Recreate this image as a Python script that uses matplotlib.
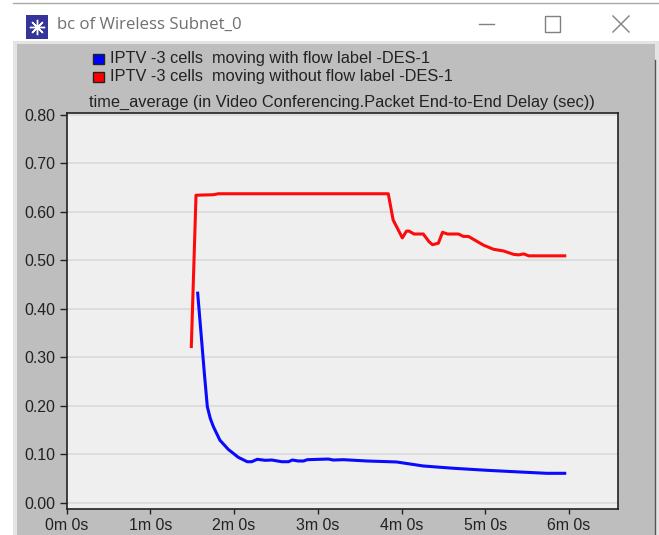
import matplotlib
matplotlib.use("Agg")
import matplotlib.pyplot as plt
from matplotlib.patches import Rectangle

W, H = 659, 535

# values (time in minutes, delay in seconds)
with_t = [1.565, 1.62, 1.644, 1.68, 1.715, 1.752, 1.83, 1.93, 2.05, 2.157, 2.21, 2.277, 2.37, 2.45, 2.57, 2.65,
          2.695, 2.767, 2.83, 2.875, 3.126, 3.185, 3.305, 3.585, 3.94, 4.26, 4.62, 5.02, 5.415, 5.735, 5.95]
with_v = [0.432, 0.318, 0.268, 0.198, 0.174, 0.157, 0.129, 0.110, 0.0936, 0.0845, 0.0845, 0.0895, 0.0874, 0.088,
          0.0845, 0.0845, 0.088, 0.086, 0.086, 0.0887, 0.090, 0.088, 0.0887, 0.086, 0.084, 0.0757, 0.071,
          0.0668, 0.0633, 0.0606, 0.0606]
without_t = [1.489, 1.545, 1.752, 1.811, 3.842, 3.90, 4.01, 4.06, 4.09, 4.15, 4.22, 4.26, 4.33, 4.37, 4.44,
             4.49, 4.55, 4.68, 4.74, 4.80, 4.98, 5.10, 5.22, 5.34, 5.40, 5.46, 5.52, 5.95]
without_v = [0.322, 0.634, 0.635, 0.637, 0.637, 0.583, 0.546, 0.560, 0.560, 0.554, 0.554, 0.554, 0.538, 0.532,
             0.535, 0.5575, 0.554, 0.554, 0.549, 0.549, 0.531, 0.5225, 0.519, 0.512, 0.511, 0.513, 0.509, 0.509]
y_ticks = [0.0, 0.1, 0.2, 0.3, 0.4, 0.5, 0.6, 0.7, 0.8]
y_labels = ["0.00", "0.10", "0.20", "0.30", "0.40", "0.50", "0.60", "0.70", "0.80"]
x_ticks = [0, 1, 2, 3, 4, 5, 6]
x_labels = ["0m 0s", "1m 0s", "2m 0s", "3m 0s", "4m 0s", "5m 0s", "6m 0s"]
series_names = ["IPTV -3 cells  moving with flow label -DES-1",
                "IPTV -3 cells  moving without flow label -DES-1"]
chart_title = "time_average (in Video Conferencing.Packet End-to-End Delay (sec))"
window_title = "bc of Wireless Subnet_0"

plt.rcParams["font.family"] = ["Liberation Sans", "DejaVu Sans"]
fig = plt.figure(figsize=(W / 100, H / 100), dpi=100, facecolor="white")


def fx(x):
    return x / W


def fy(y):
    return 1 - y / H


def frect(x0, y0, x1, y1, **kw):
    fig.add_artist(Rectangle((fx(x0), fy(y1)), (x1 - x0) / W, (y1 - y0) / H,
                             transform=fig.transFigure, **kw))


def fline(xs, ys, **kw):
    fig.add_artist(plt.Line2D([fx(x) for x in xs], [fy(y) for y in ys],
                              transform=fig.transFigure, **kw))


# window chrome
fline([13, 659], [3, 3], color="#a8a8a8", lw=1)
frect(13, 41, 659, 535, facecolor="#e4e4e4", edgecolor="none")
frect(17, 44, 655, 535, facecolor="#bebebe", edgecolor="none")
fline([655, 655], [60, 535], color="#555555", lw=1)
frect(26, 15, 48, 39, facecolor="#34349a", edgecolor="none")
fig.text(fx(57), fy(25), window_title, fontsize=12.1, color="#707070", va="center", ha="left",
         family=["Open Sans", "DejaVu Sans"])
fig.add_artist(plt.Line2D([fx(37)], [fy(27)], marker=(8, 2, 0), ms=11, color="white", mew=1,
                          transform=fig.transFigure))
fline([479, 494], [24, 24], color="#808080", lw=1)
frect(545, 16, 560, 32, facecolor="none", edgecolor="#808080", lw=1)
fline([613, 629], [16, 32], color="#808080", lw=1)
fline([613, 629], [32, 16], color="#808080", lw=1)

# plot area
L, R, T, B = 66.7, 618.0, 113.0, 508.7
ax = fig.add_axes([fx(L), fy(B), (R - L) / W, (B - T) / H], facecolor="#efefef", zorder=5)
ax.set_xlim(0, (R - L) / 83.7)
ax.set_ylim((502.7 - B) / 485, (502.7 - T) / 485)
ax.set_yticks(y_ticks, y_labels)
ax.set_xticks(x_ticks, x_labels)
ax.grid(axis="y", color="#dadada", lw=1.2)
ax.set_axisbelow(True)
ax.tick_params(axis="y", length=5, width=1, color="#222222", labelcolor="#222222", labelsize=11.4, pad=3)
ax.tick_params(axis="x", length=3.6, width=1, color="#222222", labelcolor="#222222", labelsize=11.4, pad=3)
for s in ax.spines.values():
    s.set_color("#222222")
    s.set_linewidth(1.2)
ax.plot(with_t, with_v, color="#0a0aff", lw=2.2, solid_joinstyle="round", label=series_names[0])
ax.plot(without_t, without_v, color="#ff0a0a", lw=2.2, solid_joinstyle="round", label=series_names[1])

# legend and title in the grey panel
fig.text(fx(342), fy(102), chart_title, fontsize=11.75, color="#222222", ha="center", va="center")
for name, color, y in zip(series_names, ["#0000ff", "#ff0000"], [59, 77]):
    frect(93, y - 5, 104, y + 5, facecolor=color, edgecolor="#222222", lw=1)
    fig.text(fx(110), fy(y), name, fontsize=11.75, color="#222222", ha="left", va="center")

fig.savefig("out.png", dpi=100)
